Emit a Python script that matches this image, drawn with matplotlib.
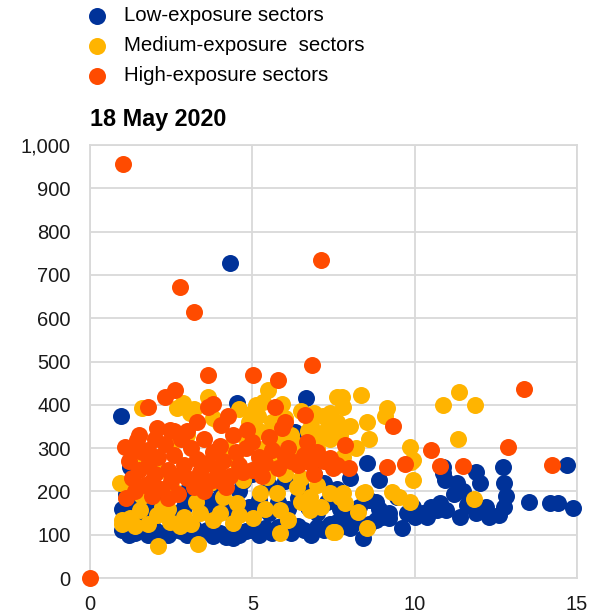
import matplotlib.pyplot as plt

plt.rcParams['font.family'] = ['Liberation Sans', 'DejaVu Sans']

# series values (x, y)
low_x = [1.0, 1.2, 1.4, 1.6, 1.8, 2.0, 2.2, 2.4, 2.6, 2.8, 3.0, 3.2, 3.4, 3.6, 3.8, 4.0, 4.2, 4.4, 4.6, 4.8,
         5.0, 5.2, 5.4, 5.6, 5.8, 6.0, 6.2, 6.4, 6.6, 6.8, 7.0, 7.2, 7.4, 7.6, 7.8, 8.0, 8.2, 8.42, 8.6, 8.8,
         9.0, 9.2,
         1.0, 1.1, 1.3, 1.5, 1.7, 1.9, 2.3, 2.6, 2.9, 3.1, 3.5, 3.7, 4.0, 4.3, 4.6, 4.9, 5.2, 5.5, 5.8, 6.1,
         6.4, 6.7, 7.0, 7.3, 7.7, 8.0, 8.3, 8.6, 8.9, 9.2,
         1.3, 2.0, 2.5, 3.0, 3.5, 4.0, 4.7, 5.0, 5.5, 6.0, 6.5, 6.9, 7.2, 7.6, 8.0, 8.52, 8.9, 8.8, 9.45,
         0.95, 4.31, 4.54, 6.64, 6.1, 6.3, 6.93, 1.23,
         9.6, 9.75, 9.96, 10.0, 10.27, 10.37, 10.7, 10.78, 10.98, 10.93, 10.88, 10.87, 11.3, 11.4, 11.6,
         11.9, 11.9, 12.0, 12.2, 12.3, 12.71, 12.75, 12.8, 12.75, 12.6, 13.52, 14.17, 14.4, 14.87, 14.69,
         11.2, 11.5, 10.5]
low_y = [110, 100, 105, 115, 100, 110, 105, 100, 112, 108, 100, 115, 105, 110, 98, 104, 95, 92, 100, 108,
         112, 100, 115, 105, 118, 110, 105, 120, 112, 100, 118, 110, 125, 130, 120, 115, 130, 92, 125, 135,
         140, 138,
         160, 195, 150, 170, 145, 160, 175, 150, 165, 185, 160, 180, 170, 150, 200, 165, 180, 150, 175, 160,
         185, 165, 150, 175, 160, 145, 165, 180, 160, 150,
         200, 195, 205, 200, 195, 210, 225, 240, 215, 225, 210, 240, 220, 205, 230, 265, 226, 176, 188,
         373, 728, 405, 416, 323, 338, 289, 257,
         115, 149, 165, 140, 150, 142, 157, 173, 157, 226, 257, 242, 219, 142, 168,
         150, 245, 219, 165, 142, 257, 220, 190, 165, 145, 176, 173, 173, 162, 261,
         195, 200, 165]

med_x = [2.08, 3.34,
         0.98, 1.23, 1.54, 2.05, 2.46, 2.77, 3.39, 3.8, 2.21, 3.28, 1.13, 0.92, 4.0, 4.52, 4.41, 5.24, 5.03,
         5.85, 5.85, 5.75, 6.37, 6.78, 6.78, 7.49, 7.39, 4.1, 4.72, 5.44, 3.7, 7.8, 8.47, 8.26, 9.29, 9.86,
         9.96, 7.55, 8.52, 9.52, 7.85, 7.7, 8.4, 1.0, 1.4, 1.8, 2.4, 2.9, 3.1, 4.6, 5.4, 6.1, 6.5, 7.1, 6.0,
         6.5, 7.0, 1.6, 2.6,
         1.59, 2.87, 2.67, 3.08, 3.63, 5.49, 5.34, 5.9, 5.18, 7.6, 7.19, 7.39, 7.75, 8.34, 9.14, 9.08, 8.52,
         7.8, 7.6, 9.85, 9.96, 11.37, 10.86, 11.86, 11.34, 11.83, 9.9,
         2.5, 3.0, 3.8, 4.2, 4.8, 5.2, 5.6, 6.2, 6.8, 7.0, 7.4, 3.5, 4.5, 5.8, 7.8, 8.2, 8.6, 6.4, 1.5, 2.2,
         4.0, 5.0, 6.5, 3.2, 7.0,
         4.9, 5.4, 5.9, 6.3, 6.9, 7.3, 7.7, 5.1, 6.0, 6.7, 7.5, 4.6, 8.0, 5.6]
med_y = [75, 78,
         134, 139, 157, 145, 130, 119, 150, 134, 165, 176, 215, 219, 150, 173, 127, 196, 139,
         104, 157, 196, 211, 157, 188, 107, 196, 188, 226, 234, 219, 196, 199, 153, 199, 176,
         226, 107, 115, 188, 173, 188, 196, 125, 120, 125, 160, 140, 125, 145, 160, 135, 175, 165, 240,
         230, 215, 190, 200,
         392, 404, 392, 381, 419, 434, 407, 403, 373, 419, 373, 381, 419, 423, 392, 373, 361,
         396, 361, 303, 272, 430, 400, 400, 321, 182, 268,
         310, 330, 370, 300, 320, 340, 310, 330, 350, 330, 320, 260, 270, 270, 280, 300, 320, 290, 270, 250,
         355, 380, 385, 390, 300,
         360, 300, 330, 310, 380, 345, 330, 400, 370, 340, 360, 390, 350, 360]

high_x = [0.0, 1.02, 2.77, 3.21, 7.11, 13.37, 12.86, 14.23, 11.48, 10.78, 10.5, 9.7, 9.14, 9.32, 7.85,
          7.98, 7.39, 7.49,
          3.64, 2.62, 2.31, 1.8, 3.63, 3.29, 2.05, 2.46, 1.08, 1.44, 1.79, 5.03, 5.8, 6.83, 5.7, 6.62, 6.0,
          5.9, 4.83, 4.26, 4.05, 3.8, 6.67,
          1.2, 1.3, 1.4, 1.5, 1.6, 1.7, 1.8, 1.9, 2.0, 2.1, 2.2, 2.3, 2.4, 2.5, 2.6, 2.7, 2.8, 2.9, 3.0, 3.1,
          3.2, 3.3, 3.4, 3.5, 3.6, 3.7, 3.8, 3.9, 4.0, 4.1, 4.3, 4.5, 4.6, 4.8, 5.0, 5.2, 5.4, 5.6, 5.8, 6.0,
          6.2, 6.4, 6.6, 6.8, 7.0, 7.2, 1.1, 2.0, 2.6, 3.0, 1.5, 4.4, 5.0, 5.3, 4.2, 3.5, 2.4, 6.1, 5.5,
          6.9, 7.6, 1.3, 1.9, 2.8, 3.4, 4.0, 4.7]
high_y = [0, 956, 672, 614, 734, 436, 302, 261, 259, 259, 296, 263, 257, 350, 307,
          254, 277, 253,
          469, 434, 419, 396, 396, 361, 346, 342, 303, 319, 296, 469, 457, 492, 396, 376, 361,
          346, 342, 373, 353, 403, 315,
          270, 230, 200, 250, 290, 215, 260, 190, 240, 280, 205, 310, 250, 225, 285, 195, 320, 260, 230, 300,
          210, 275, 245, 320, 265, 225, 290, 250, 305, 270, 235, 290, 260, 300, 250, 280, 265, 295, 255, 280,
          270, 260, 285, 265, 290, 270, 185, 320, 340, 340, 330, 330, 315, 235, 210, 200, 185, 300, 325,
          240, 260, 300, 225, 240, 215, 225, 245]

labels = ['Low-exposure sectors', 'Medium-exposure  sectors', 'High-exposure sectors']
colors = ['#003299', '#FFB400', '#FF4B00']
y_ticks = [0, 100, 200, 300, 400, 500, 600, 700, 800, 900, 1000]
x_ticks = [0, 5, 10, 15]

fig = plt.figure(figsize=(5.94, 6.14), dpi=100)
ax = fig.add_axes([90 / 594, 36 / 614, 487 / 594, 433 / 614])

handles = []
for xs, ys, c, lab in zip([low_x, med_x, high_x], [low_y, med_y, high_y], colors, labels):
    h = ax.scatter(xs, ys, s=150, color=c, linewidths=0, label=lab, zorder=3, clip_on=False)
    handles.append(h)

ax.set_xlim(0, 15)
ax.set_ylim(0, 1000)
ax.set_xticks(x_ticks)
ax.set_yticks(y_ticks)
ax.set_yticklabels([f'{v:,}' for v in y_ticks])
ax.grid(True, color='#d9d9d9', linewidth=1.3, zorder=0)
ax.set_axisbelow(True)
for s in ax.spines.values():
    s.set_color('#d9d9d9')
    s.set_linewidth(1.3)
ax.tick_params(length=0, labelsize=14.5, colors='#1a1a1a')
ax.tick_params(axis='y', pad=14)
ax.tick_params(axis='x', pad=12)

ax.set_title('18 May 2020', loc='left', fontsize=16.8, fontweight='bold', pad=14, x=0.0)

fig.legend(handles=handles, labels=labels, loc='upper left', bbox_to_anchor=(75 / 594, 1 + 6 / 614),
           frameon=False, fontsize=14.7, handletextpad=0.78, labelspacing=0.53, borderaxespad=0.2,
           handlelength=1.0, scatterpoints=1)

fig.savefig('out.png', dpi=100)
